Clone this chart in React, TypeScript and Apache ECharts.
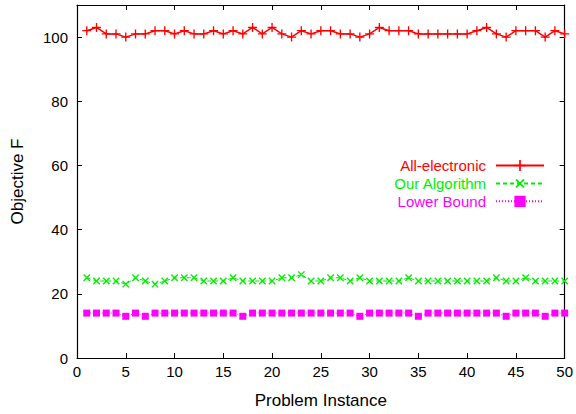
import React, { useEffect, useRef } from "react";
import * as echarts from "echarts";

const instances = [1,2,3,4,5,6,7,8,9,10,11,12,13,14,15,16,17,18,19,20,21,22,23,24,25,26,27,28,29,30,31,32,33,34,35,36,37,38,39,40,41,42,43,44,45,46,47,48,49,50];
const allElectronic = [102,103,101,101,100,101,101,102,102,101,102,101,101,102,101,102,101,103,101,103,101,100,102,101,102,102,101,101,100,101,103,102,102,102,101,101,101,101,101,101,102,103,101,100,102,102,102,100,102,101];
const ourAlgorithm = [25,24,24,24,23,25,24,23,24,25,25,25,24,24,24,25,24,24,24,24,25,25,26,24,24,25,25,24,25,24,24,24,24,25,24,24,24,24,24,24,24,24,25,24,24,25,24,24,24,24];
const lowerBound = [14,14,14,14,13,14,13,14,14,14,14,14,14,14,14,14,13,14,14,14,14,14,14,14,14,14,14,14,13,14,14,14,14,14,13,14,14,14,14,14,14,14,14,13,14,14,14,13,14,14];
const xTicks = { min: 0, max: 50, interval: 5 };
const yTicks = { min: 0, max: 110, interval: 20 };

const RED = "#ff0000";
const GREEN = "#00ee00";
const MAGENTA = "#ff00ff";
const PLUS = "path://M0,4.25 H10 V5.75 H0 Z M4.25,0 H5.75 V10 H4.25 Z";
const FONT = "Liberation Sans";

export default function App() {
  const ref = useRef<HTMLDivElement>(null);
  useEffect(() => {
    const chart = echarts.init(ref.current!, null, { renderer: "svg" });
    const pair = (arr: number[]) => instances.map((x, i) => [x, arr[i]]);
    const axisCommon = {
      axisLine: { show: true, onZero: false, lineStyle: { color: "#000", width: 1.2 } },
      axisTick: { show: true, inside: true, length: 5, lineStyle: { color: "#000", width: 1 } },
      splitLine: { show: false },
    };
    chart.setOption({
      animation: false,
      textStyle: { fontFamily: FONT },
      grid: { left: 77, right: 10, top: 5, bottom: 56 },
      xAxis: [
        {
          type: "value", ...xTicks, ...axisCommon,
          name: "Problem Instance", nameLocation: "middle", nameGap: 34,
          nameTextStyle: { fontSize: 17, color: "#000", fontFamily: FONT },
          axisLabel: { fontSize: 15, color: "#000", margin: 6, fontFamily: FONT },
        },
        {
          type: "value", position: "top", ...xTicks, ...axisCommon,
          axisLabel: { show: false },
        },
      ],
      yAxis: [
        {
          type: "value", ...yTicks, ...axisCommon,
          name: "Objective F", nameLocation: "middle", nameGap: 51,
          nameTextStyle: { fontSize: 17, color: "#000", fontFamily: FONT },
          axisLabel: { fontSize: 15, color: "#000", margin: 9, showMaxLabel: false, fontFamily: FONT,
            formatter: (v: number) => (v === 110 ? "" : String(v)) },
        },
        {
          type: "value", position: "right", ...yTicks, ...axisCommon,
          axisLabel: { show: false },
        },
      ],
      legend: {
        orient: "vertical", right: 26, top: 153, align: "right",
        itemWidth: 48, itemHeight: 14, itemGap: 2.5,
        textStyle: { fontSize: 15, lineHeight: 14, fontFamily: FONT, padding: [0, 5, 0, 0] },
        data: [
          { name: "All-electronic", textStyle: { color: RED } },
          { name: "Our Algorithm", textStyle: { color: GREEN } },
          { name: "Lower Bound", textStyle: { color: MAGENTA } },
        ],
      },
      series: [
        {
          name: "All-electronic", type: "line", data: pair(allElectronic),
          symbol: PLUS, symbolSize: 9, showAllSymbol: true,
          lineStyle: { color: RED, width: 1.5, type: "solid" },
          itemStyle: { color: RED },
        },
        {
          name: "Our Algorithm", type: "line", data: pair(ourAlgorithm),
          symbol: PLUS, symbolSize: 9, symbolRotate: 45, showAllSymbol: true,
          lineStyle: { color: GREEN, width: 1, type: [4, 3] },
          itemStyle: { color: GREEN },
        },
        {
          name: "Lower Bound", type: "line", data: pair(lowerBound),
          symbol: "rect", symbolSize: 7, showAllSymbol: true,
          lineStyle: { color: MAGENTA, width: 1, type: [1, 2] },
          itemStyle: { color: MAGENTA },
        },
      ],
    });
    return () => chart.dispose();
  }, []);
  return <div ref={ref} style={{ width: 576, height: 414, position: "absolute", left: 0, top: 0, background: "#fff" }} />;
}
